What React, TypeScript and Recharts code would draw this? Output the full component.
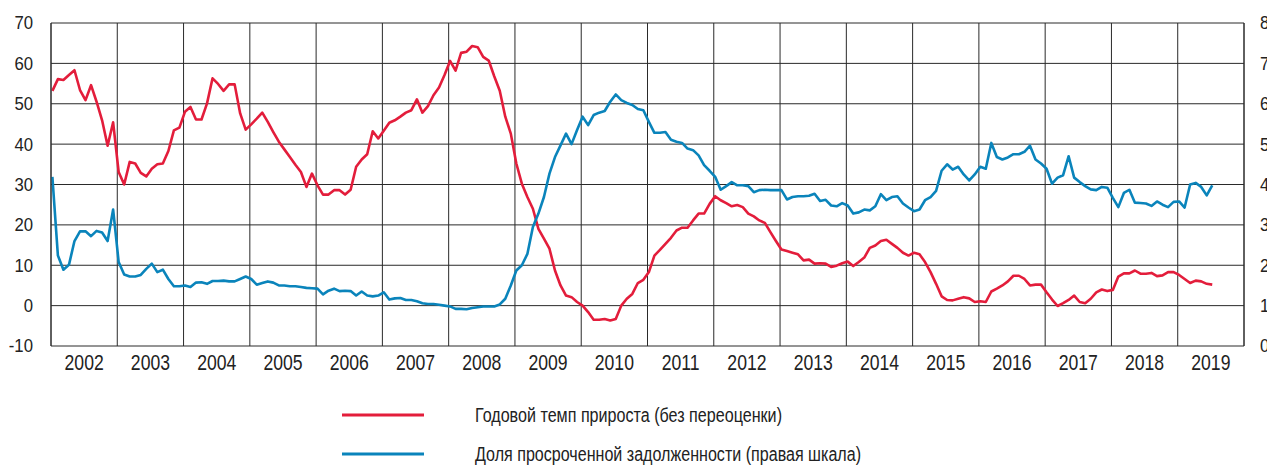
import { LineChart, Line, XAxis, YAxis, CartesianGrid, Legend } from 'recharts';

const FONT = '"Liberation Sans", Arial, sans-serif';
const RED = '#e31d3b';
const BLUE = '#0a84bb';
const GRID = '#2a2a2a';
const TEXT = '#222';

const YEARS = [2002, 2003, 2004, 2005, 2006, 2007, 2008, 2009, 2010, 2011, 2012, 2013, 2014, 2015, 2016, 2017, 2018, 2019];
const LEFT_TICKS = [-10, 0, 10, 20, 30, 40, 50, 60, 70];
const RIGHT_TICKS = [0, 1, 2, 3, 4, 5, 6, 7, 8];

// годовой темп прироста, %, помесячно с января 2002
const growth = [
  53.2, 56.1, 55.9, 57.1, 58.3, 53.4, 50.9, 54.6, 50.5, 45.9, 39.6, 45.4,
  33.1, 30.0, 35.6, 35.2, 32.9, 32.0, 33.9, 35.0, 35.2, 38.3, 43.4, 44.1,
  48.0, 49.2, 46.1, 46.1, 50.1, 56.3, 54.9, 53.2, 54.8, 54.8, 47.6, 43.6,
  44.9, 46.3, 47.8, 45.5, 43.0, 40.6, 38.7, 36.8, 34.9, 33.1, 29.4, 32.7,
  29.8, 27.5, 27.5, 28.6, 28.6, 27.5, 28.7, 34.4, 36.2, 37.5, 43.2, 41.4,
  43.3, 45.3, 45.9, 46.8, 47.8, 48.4, 51.1, 47.8, 49.4, 52.1, 54.0, 57.1,
  60.6, 58.2, 62.6, 62.9, 64.3, 64.0, 61.6, 60.7, 56.8, 53.2, 46.8, 42.6,
  35.2, 30.2, 26.9, 24.0, 19.0, 16.6, 14.1, 8.7, 5.0, 2.5, 2.1, 0.9,
  0.0, -1.6, -3.5, -3.5, -3.3, -3.7, -3.3, 0.0, 1.7, 2.9, 5.6, 6.4,
  8.3, 12.4, 13.8, 15.3, 16.8, 18.6, 19.3, 19.3, 21.1, 22.8, 22.8, 25.2,
  27.1, 26.1, 25.4, 24.6, 24.9, 24.4, 22.8, 22.1, 21.1, 20.5, 18.2, 16.0,
  13.9, 13.5, 13.1, 12.7, 11.2, 11.4, 10.4, 10.5, 10.4, 9.6, 9.9, 10.5,
  10.9, 9.8, 10.8, 11.9, 14.3, 14.9, 16.0, 16.3, 15.3, 14.3, 13.1, 12.4,
  13.1, 12.7, 10.8, 8.3, 5.4, 2.3, 1.4, 1.3, 1.7, 2.1, 1.8, 0.9,
  1.1, 0.9, 3.5, 4.2, 5.0, 6.0, 7.4, 7.4, 6.6, 5.0, 5.2, 5.2,
  3.3, 1.5, -0.1, 0.6, 1.4, 2.5, 0.9, 0.6, 1.7, 3.3, 4.0, 3.6,
  3.9, 7.2, 8.0, 8.0, 8.7, 7.9, 7.9, 8.1, 7.3, 7.5, 8.3, 8.3,
  7.6, 6.6, 5.6, 6.2, 6.0, 5.4, 5.2,
];

// доля просроченной задолженности, % (правая шкала)
const overdue = [
  4.19, 2.24, 1.89, 2.01, 2.6, 2.84, 2.84, 2.72, 2.85, 2.81, 2.6, 3.38,
  2.08, 1.77, 1.72, 1.72, 1.76, 1.91, 2.04, 1.83, 1.89, 1.66, 1.48, 1.48,
  1.5, 1.46, 1.57, 1.58, 1.54, 1.61, 1.61, 1.62, 1.6, 1.6, 1.66, 1.72,
  1.66, 1.52, 1.56, 1.6, 1.57, 1.5, 1.5, 1.48, 1.48, 1.46, 1.44, 1.43,
  1.42, 1.28, 1.37, 1.42, 1.36, 1.37, 1.36, 1.25, 1.35, 1.25, 1.23, 1.25,
  1.33, 1.15, 1.18, 1.19, 1.14, 1.14, 1.11, 1.06, 1.04, 1.04, 1.02, 1.0,
  0.98, 0.92, 0.92, 0.91, 0.94, 0.96, 0.98, 0.98, 0.98, 1.03, 1.17, 1.5,
  1.87, 2.0, 2.28, 2.95, 3.28, 3.69, 4.27, 4.68, 4.97, 5.26, 5.0, 5.35,
  5.68, 5.47, 5.72, 5.78, 5.82, 6.05, 6.23, 6.09, 6.02, 5.97, 5.87, 5.84,
  5.55, 5.28, 5.28, 5.3, 5.11, 5.06, 5.03, 4.89, 4.85, 4.72, 4.48, 4.34,
  4.19, 3.87, 3.96, 4.06, 3.98, 3.98, 3.96, 3.81, 3.86, 3.87, 3.86, 3.86,
  3.86, 3.63, 3.69, 3.71, 3.71, 3.72, 3.77, 3.59, 3.62, 3.48, 3.46, 3.54,
  3.48, 3.28, 3.31, 3.38, 3.36, 3.46, 3.76, 3.61, 3.69, 3.71, 3.53, 3.43,
  3.34, 3.38, 3.61, 3.69, 3.84, 4.34, 4.5, 4.37, 4.44, 4.25, 4.1, 4.25,
  4.44, 4.39, 5.03, 4.68, 4.62, 4.67, 4.75, 4.75, 4.81, 4.96, 4.62, 4.52,
  4.39, 4.02, 4.17, 4.23, 4.7, 4.17, 4.06, 3.96, 3.88, 3.86, 3.94, 3.92,
  3.67, 3.44, 3.79, 3.87, 3.55, 3.54, 3.53, 3.47, 3.58, 3.5, 3.44, 3.57,
  3.58, 3.43, 4.0, 4.04, 3.94, 3.73, 3.98,
];

const W = 1267;
const H = 466;
const MONTHS = YEARS.length * 12;
const PLOT_W = 1193;
const yearPx = PLOT_W / YEARS.length;
const yearBounds = YEARS.map((_, k) => k * 12).concat(MONTHS);
const LEGEND_TEXT_W = [307, 386];

// точка месяца ставится чуть правее начала месяца
const data = growth.map((g, i) => ({ m: i + 0.25, growth: g, overdue: overdue[i] }));

function YearTick({ x, payload }: any) {
  if (payload.value >= MONTHS) return null;
  const year = YEARS[Math.round(payload.value / 12)];
  return (
    <text
      transform={`translate(${x + yearPx / 2},370) scale(0.8,1)`}
      textAnchor="middle"
      fill={TEXT}
      fontSize={22}
      fontFamily={FONT}
    >
      {year}
    </text>
  );
}

function ValueTick({ x, y, payload, anchor }: any) {
  return (
    <text
      transform={`translate(${x},${y}) scale(0.93,1)`}
      dy="0.36em"
      textAnchor={anchor}
      fill={TEXT}
      fontSize={18}
      fontFamily={FONT}
    >
      {payload.value}
    </text>
  );
}

function LegendBox({ payload }: any) {
  return (
    <svg width={900} height={80} style={{ display: 'block' }}>
      {(payload || []).map((p: any, k: number) => {
        const cy = 22 + k * 39;
        return (
          <g key={p.value}>
            <line x1={342} x2={424} y1={cy} y2={cy} stroke={p.color} strokeWidth={3} />
            <text
              x={475}
              y={cy + 7.3}
              fill={TEXT}
              fontSize={20}
              fontFamily={FONT}
              textLength={LEGEND_TEXT_W[k]}
              lengthAdjust="spacingAndGlyphs"
            >
              {p.value}
            </text>
          </g>
        );
      })}
    </svg>
  );
}

export default function App() {
  return (
    <div style={{ position: 'absolute', left: 0, top: 0, width: W, height: H, overflow: 'hidden', background: '#fff' }}>
      <LineChart width={W} height={H} data={data} margin={{ top: 23, right: 0, bottom: 90, left: 0 }}>
        <CartesianGrid yAxisId="left" stroke={GRID} strokeWidth={1} />
        <XAxis
          dataKey="m"
          type="number"
          domain={[0, MONTHS]}
          ticks={yearBounds}
          interval={0}
          height={30}
          axisLine={false}
          tickLine={false}
          tickSize={0}
          tick={<YearTick />}
        />
        <YAxis
          yAxisId="left"
          domain={[-10, 70]}
          ticks={LEFT_TICKS}
          interval={0}
          width={51}
          axisLine={{ stroke: GRID }}
          tickLine={false}
          tickSize={0}
          tickMargin={18}
          tick={<ValueTick anchor="end" />}
        />
        <YAxis
          yAxisId="right"
          orientation="right"
          domain={[0, 8]}
          ticks={RIGHT_TICKS}
          interval={0}
          width={23}
          axisLine={{ stroke: GRID }}
          tickLine={false}
          tickSize={0}
          tickMargin={16}
          tick={<ValueTick anchor="start" />}
        />
        <Legend
          layout="horizontal"
          verticalAlign="middle"
          align="center"
          wrapperStyle={{ left: 0, top: 393, width: 900, height: 80 }}
          content={<LegendBox />}
        />
        <Line
          yAxisId="left"
          type="linear"
          dataKey="growth"
          name="Годовой темп прироста (без переоценки)"
          stroke={RED}
          strokeWidth={2.6}
          dot={false}
          strokeLinejoin="round"
          isAnimationActive={false}
        />
        <Line
          yAxisId="right"
          type="linear"
          dataKey="overdue"
          name="Доля просроченной задолженности (правая шкала)"
          stroke={BLUE}
          strokeWidth={2.6}
          dot={false}
          strokeLinejoin="round"
          isAnimationActive={false}
        />
      </LineChart>
    </div>
  );
}
